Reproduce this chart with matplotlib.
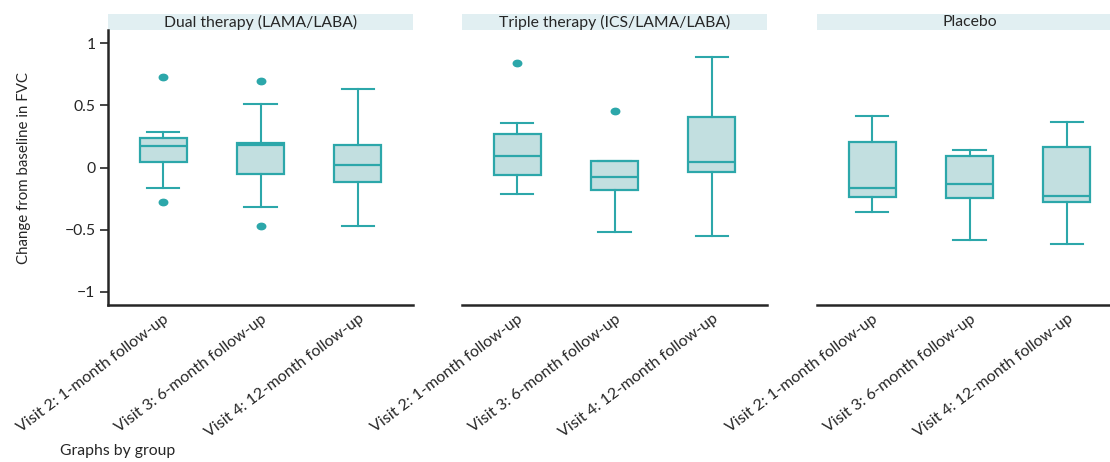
import matplotlib.pyplot as plt
from matplotlib.patches import Rectangle
from matplotlib.markers import MarkerStyle
from matplotlib.transforms import Affine2D

plt.rcParams['font.family'] = ['Lato', 'DejaVu Sans']

GROUPS = ["Dual therapy (LAMA/LABA)", "Triple therapy (ICS/LAMA/LABA)", "Placebo"]
VISITS = ["Visit 2: 1-month follow-up", "Visit 3: 6-month follow-up", "Visit 4: 12-month follow-up"]

# box summaries per group, one entry per visit
Q1 = [[0.043, -0.056, -0.120],
      [-0.059, -0.177, -0.037],
      [-0.235, -0.246, -0.276]]
MED = [[0.172, 0.177, 0.022],
       [0.096, -0.080, 0.048],
       [-0.161, -0.129, -0.227]]
Q3 = [[0.236, 0.193, 0.177],
      [0.271, 0.054, 0.405],
      [0.204, 0.096, 0.166]]
WLO = [[-0.161, -0.321, -0.471],
       [-0.209, -0.519, -0.549],
       [-0.358, -0.586, -0.618]]
WHI = [[0.287, 0.509, 0.630],
       [0.359, 0.054, 0.889],
       [0.410, 0.140, 0.369]]
FLIERS = [[[0.729, -0.278], [0.699, -0.468], []],
          [[0.841], [0.455], []],
          [[], [], []]]

YTICKS = [1, 0.5, 0, -0.5, -1]
YTICKLABELS = ["1", "0.5", "0", "\u22120.5", "\u22121"]

EDGE = "#2ca7aa"
FILL = "#c2dfe0"
STRIP = "#e1eff2"
DARK = "#262626"

W, H = 1110, 462
fig = plt.figure(figsize=(W / 100, H / 100), dpi=100)

lefts = [108, 462, 817]
pw = 305
top, bottom = 30, 305

# slightly flattened dots for outside values
dot = MarkerStyle('o', transform=Affine2D().scale(1.33, 1.0))

for g, name in enumerate(GROUPS):
    ax = fig.add_axes([lefts[g] / W, 1 - bottom / H, pw / W, (bottom - top) / H])
    stats = []
    for v in range(3):
        stats.append(dict(med=MED[g][v], q1=Q1[g][v], q3=Q3[g][v],
                          whislo=WLO[g][v], whishi=WHI[g][v],
                          fliers=FLIERS[g][v], label=VISITS[v]))
    ax.bxp(stats, positions=[1, 2, 3], widths=0.48, capwidths=0.33,
           patch_artist=True, showfliers=True,
           boxprops=dict(facecolor=FILL, edgecolor=EDGE, linewidth=1.6),
           medianprops=dict(color=EDGE, linewidth=1.6),
           whiskerprops=dict(color=EDGE, linewidth=1.5),
           capprops=dict(color=EDGE, linewidth=1.5),
           flierprops=dict(marker=dot, markerfacecolor=EDGE, markeredgecolor=EDGE,
                           markersize=4.6))
    ax.set_xlim(0.433, 3.567)
    ax.set_ylim(-1.105, 1.105)

    for s in ["top", "right"]:
        ax.spines[s].set_visible(False)
    ax.spines["bottom"].set_color(DARK)
    ax.spines["bottom"].set_linewidth(1.8)
    ax.tick_params(axis='x', length=0, pad=5)
    ax.set_xticks([1, 2, 3])
    ax.set_xticklabels(VISITS, rotation=37, ha='right', rotation_mode='anchor',
                       fontsize=11.5, color=DARK)

    if g == 0:
        ax.spines["left"].set_color(DARK)
        ax.spines["left"].set_linewidth(1.8)
        ax.set_yticks(YTICKS)
        ax.set_yticklabels(YTICKLABELS, fontsize=11.3, color=DARK)
        ax.tick_params(axis='y', length=6, width=1.2, color=DARK, pad=3)
        ax.set_ylabel("Change from baseline in FVC", fontsize=10.8, color=DARK, labelpad=24)
    else:
        ax.spines["left"].set_visible(False)
        ax.set_yticks([])

    # group header strip
    sh = 16 / (bottom - top)
    ax.add_patch(Rectangle((0, 1), 1, sh, transform=ax.transAxes, facecolor=STRIP,
                           edgecolor='none', clip_on=False))
    ax.text(0.5, 1 + sh / 2, name, transform=ax.transAxes, ha='center', va='center',
            fontsize=11.3, color=DARK)

fig.text(60 / W, 1 - 451 / H, "Graphs by group", fontsize=11.3, color=DARK, va='center')

fig.savefig("out.png", dpi=100)
